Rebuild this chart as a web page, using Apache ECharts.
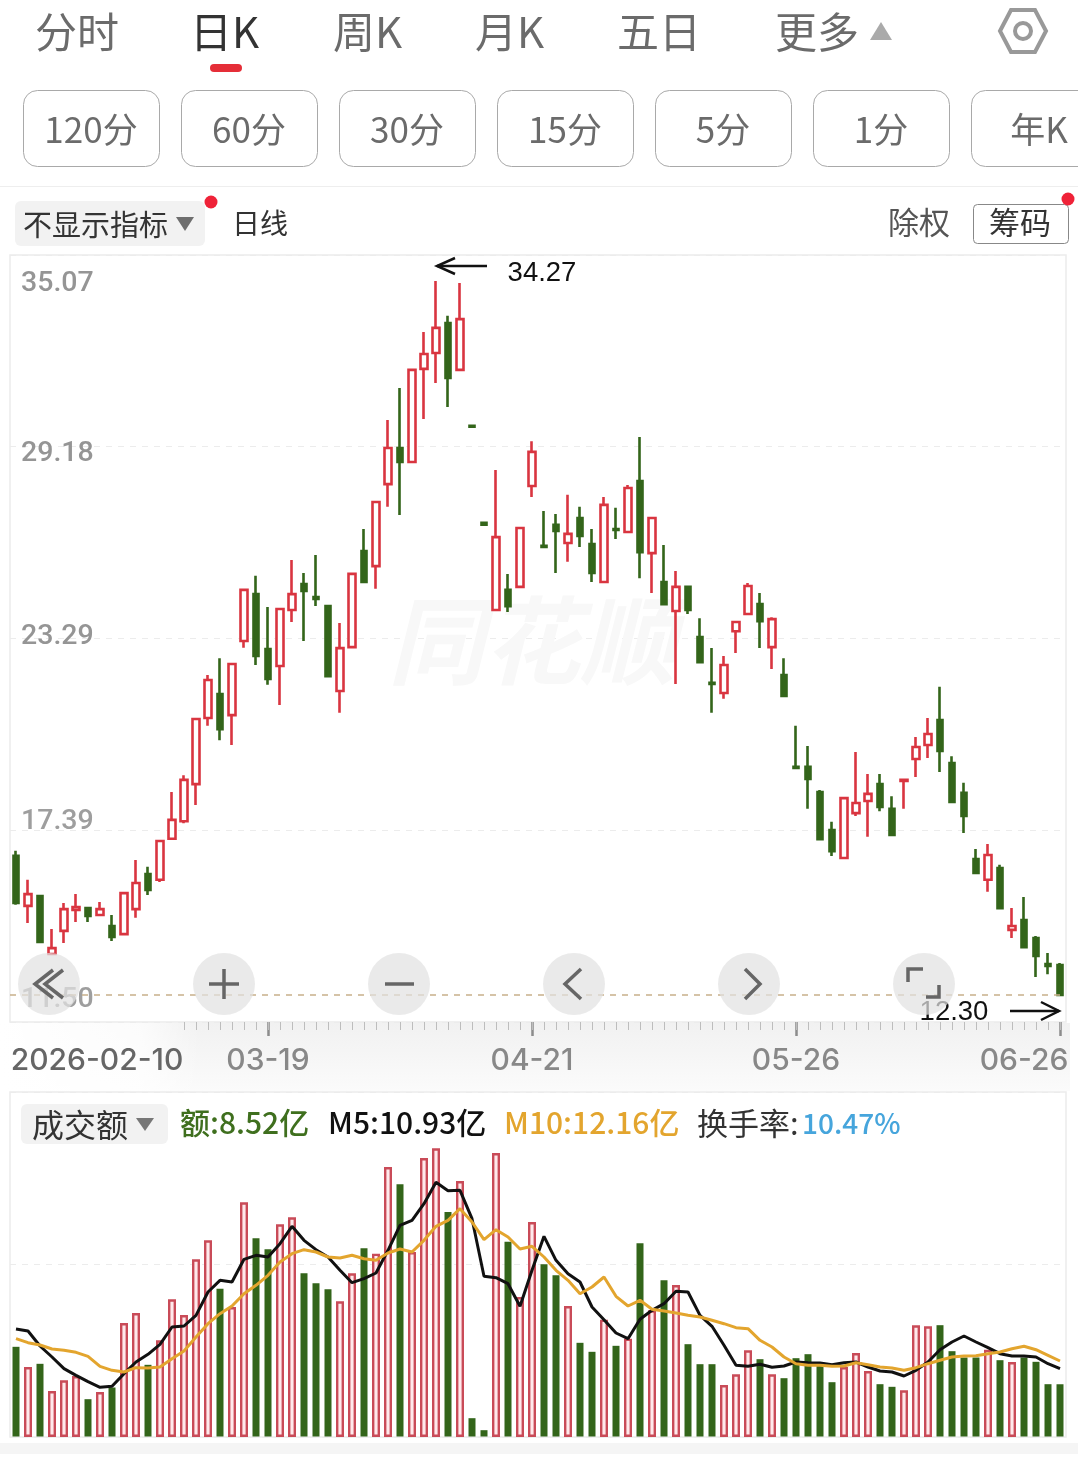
<!DOCTYPE html>
<html>
<head>
<meta charset="utf-8">
<style>html,body{margin:0;padding:0;background:#fff}#kline{width:1078px;height:1464px}</style>
<script src="https://cdn.jsdelivr.net/npm/echarts@6/dist/echarts.min.js"></script>
</head>
<body>
<div id="kline"></div>
<script>
// Daily session dates
const tradeDays = ['02-10','02-11','02-12','02-13','02-24','02-25','02-26','02-27','03-02','03-03','03-04','03-05','03-06','03-09','03-10','03-11','03-12','03-13','03-16','03-17','03-18','03-19','03-20','03-23','03-24','03-25','03-26','03-27','03-30','03-31','04-01','04-02','04-03','04-07','04-08','04-09','04-10','04-13','04-14','04-15','04-16','04-17','04-20','04-21','04-22','04-23','04-24','04-27','04-28','04-29','04-30','05-06','05-07','05-08','05-11','05-12','05-13','05-14','05-15','05-18','05-19','05-20','05-21','05-22','05-25','05-26','05-27','05-28','05-29','06-01','06-02','06-03','06-04','06-05','06-08','06-09','06-10','06-11','06-12','06-15','06-16','06-17','06-18','06-22','06-23','06-24','06-25','06-26'];

// Daily prices
const opens = [16.61,15.07,15.37,13.59,14.30,14.94,15.00,14.79,14.45,14.20,14.97,16.05,15.87,17.13,17.67,18.81,20.84,21.58,20.93,23.21,24.65,22.96,22.44,24.16,24.96,24.56,24.28,21.67,23.02,25.97,25.51,28.03,29.14,28.71,31.57,32.06,32.98,31.54,29.82,26.84,24.16,24.78,24.87,27.97,26.13,26.78,26.22,26.99,26.19,25.02,26.65,26.56,28.12,25.91,25.02,24.13,24.87,23.33,21.92,21.61,23.51,24.04,24.34,23.02,22.16,19.34,19.34,18.57,17.40,16.54,17.92,18.29,18.81,18.05,18.91,19.58,20.01,20.78,19.46,18.54,16.51,15.87,16.23,14.33,14.63,14.08,13.28,13.25];
const closes = [15.16,15.43,13.96,13.77,14.97,15.03,14.76,14.97,14.11,15.46,15.77,15.56,17.06,17.71,18.94,20.81,22.01,20.50,22.50,24.78,22.75,22.04,24.19,24.65,24.75,24.50,22.13,22.99,25.27,25.02,27.48,29.14,28.71,31.54,32.03,32.83,31.29,33.10,29.79,26.78,26.40,24.28,26.68,29.02,26.10,26.59,26.50,26.44,25.30,27.39,26.62,27.91,25.94,26.99,24.34,24.87,24.16,22.56,21.89,22.47,23.79,24.90,23.82,23.88,21.52,19.31,18.97,17.12,16.75,18.38,18.23,18.51,18.11,17.25,18.94,19.95,20.35,19.83,18.26,17.83,16.08,16.63,15.00,14.45,13.80,13.53,13.22,12.33];
const lows = [15.10,14.54,13.93,13.56,13.93,14.57,14.57,14.76,13.99,14.17,14.70,15.40,15.80,17.10,17.61,18.17,20.60,20.16,20.01,23.00,22.47,21.86,21.24,23.79,23.21,24.28,22.10,21.00,22.99,24.99,24.81,27.33,27.08,28.68,30.03,31.14,30.40,31.51,29.76,26.75,24.13,24.10,24.84,27.63,26.07,25.30,25.64,26.10,25.02,24.99,26.34,26.53,25.14,24.68,24.31,21.89,24.04,22.53,21.00,21.43,22.84,24.01,22.99,22.35,21.49,19.27,18.05,17.09,16.60,16.51,17.83,17.19,17.98,17.22,18.05,19.03,19.61,19.18,18.23,17.31,16.05,15.50,14.97,14.08,13.77,12.88,12.97,12.30];
const highs = [16.76,15.87,15.40,14.36,15.16,15.43,15.03,15.19,14.79,15.49,16.48,16.27,17.09,18.57,19.08,20.84,22.16,22.68,22.53,24.81,25.21,24.25,24.22,25.70,25.30,25.85,24.31,23.76,25.30,26.65,27.51,30.00,30.98,31.57,32.70,34.27,33.20,34.21,29.85,26.87,28.46,25.27,26.71,29.35,27.20,27.11,27.70,27.33,26.65,27.63,27.30,28.00,29.48,27.02,26.16,25.36,24.90,23.91,22.99,22.75,23.82,24.99,24.68,23.94,22.68,20.60,19.98,18.63,17.65,18.41,19.80,19.12,19.12,18.44,18.97,20.26,20.84,21.80,19.67,18.85,16.82,16.97,16.33,15.00,15.34,14.14,13.62,13.31];

// Daily turnover and its moving averages, in 亿
const turnover = [14.51,11.20,11.79,7.36,9.07,9.76,6.13,7.20,8.00,18.24,19.84,11.63,15.47,22.03,19.52,28.43,31.47,23.79,20.80,37.55,31.89,30.13,34.03,35.15,26.29,24.69,23.73,21.71,26.19,30.29,29.33,43.20,40.53,29.60,44.64,46.19,36.10,40.96,3.09,1.17,45.44,31.31,22.40,34.40,27.73,25.97,20.96,15.15,13.71,18.77,14.67,15.73,31.09,20.27,25.17,24.32,14.93,11.73,11.73,8.32,10.03,13.87,12.53,10.03,9.49,12.69,13.33,11.73,8.85,11.20,13.44,10.56,8.53,8.11,7.47,17.87,17.71,17.97,13.81,12.80,12.80,13.97,12.37,12.00,12.80,12.11,8.53,8.52];
const ma5 = [17.28,16.96,14.56,12.80,10.93,9.87,8.85,7.95,8.11,10.13,12.00,13.23,14.83,17.60,17.76,19.47,23.20,25.07,24.80,28.43,29.07,28.80,30.93,33.71,31.47,29.97,28.80,26.67,24.69,25.33,26.24,29.87,33.87,34.67,37.33,40.75,39.41,39.47,34.93,25.71,25.49,24.53,20.91,26.67,32.11,28.27,26.13,24.80,20.80,18.77,16.64,15.73,18.83,20.27,21.33,23.31,23.20,19.47,17.71,14.67,11.47,11.31,11.63,11.15,11.36,12.00,11.89,11.84,11.57,11.89,12.00,11.20,10.56,10.40,9.76,10.67,12.00,13.97,15.20,16.16,15.20,14.29,13.33,12.96,12.96,12.80,11.73,10.93];
const ma10 = [15.73,15.09,14.72,14.08,13.87,13.55,12.91,11.31,10.67,10.40,11.09,11.04,11.20,12.53,13.76,16.00,18.13,19.73,20.96,22.93,24.27,25.87,28.00,29.33,29.97,29.60,28.80,28.64,29.07,28.53,28.27,29.44,30.08,29.60,31.47,33.71,34.67,36.53,34.40,31.57,33.17,32.00,30.08,30.51,28.80,26.67,25.07,22.93,24.00,25.60,22.51,20.96,21.87,20.43,20.16,19.84,19.47,19.20,18.67,18.13,17.49,17.33,15.47,14.40,12.80,11.73,11.47,11.47,11.31,11.36,11.89,11.57,11.20,11.04,10.67,11.09,11.73,12.27,12.80,12.96,13.01,13.33,13.60,14.13,14.51,13.97,13.07,12.16];

// Axis ticks
const priceTicks = [11.50,17.39,23.29,29.18,35.07];
const dateLabels = {0:'2026-02-10',21:'03-19',43:'04-21',65:'05-26',87:'06-26'};
const turnoverRate = '10.47%';

// Header text
const periodTabs = ['分时','日K','周K','月K','五日','更多'];
const minuteTabs = ['120分','60分','30分','15分','5分','1分','年K'];

const RED = '#d93540', GREEN = '#33651a', GOLD = '#e3a52e';
const CJK = '"Noto Sans CJK SC","Noto Sans",sans-serif';
const isRise = i => closes[i] > opens[i];
const empty = ['-','-','-','-'];
const ohlc = i => [opens[i], closes[i], lows[i], highs[i]];

const chart = echarts.init(document.getElementById('kline'), null, {renderer:'canvas'});

// Header, toolbar and overlay helpers
const gText = (x, y, text, size, fill, align, extra) => Object.assign({
  type:'text', x, y, z:50,
  style:{text, fill, font:`${(extra && extra.fontStyle) || ''} ${(extra && extra.weight) || 400} ${size}px ${(extra && extra.family) || CJK}`,
         textAlign:align || 'left', textVerticalAlign:'middle'}
}, extra && extra.el);
const gRect = (x, y, width, height, r, style, z) => ({type:'rect', z: z === undefined ? 50 : z,
  shape:{x, y, width, height, r}, style});
const gLine = (points, stroke, lineWidth, z) => ({type:'polyline', z: z === undefined ? 60 : z,
  shape:{points}, style:{stroke, lineWidth, fill:null, lineCap:'butt', lineJoin:'miter'}});
const gDot = (cx, cy, r, fill, z) => ({type:'circle', z: z === undefined ? 50 : z, shape:{cx, cy, r}, style:{fill}});
const gTri = (points, fill) => ({type:'polygon', z:50, shape:{points}, style:{fill}});

const graphics = [];
// tabs
[[35,'#6b6b6b'],[190,'#333'],[333,'#6b6b6b'],[475,'#6b6b6b'],[617,'#6b6b6b'],[775,'#6b6b6b']].forEach((t, i) => {
  graphics.push(gText(t[0], 32, periodTabs[i], 42, t[1]));
});
graphics.push(gRect(210, 64, 32, 8, 4, {fill:'#e52e38'}));
graphics.push(gTri([[870,40],[881,22],[892,40]], '#aaaaaa'));
graphics.push({type:'polygon', z:50, shape:{points:[[1000,31],[1011,10],[1035,10],[1046,31],[1035,52],[1011,52]]},
  style:{stroke:'#999', lineWidth:4, fill:null}});
graphics.push({type:'circle', z:50, shape:{cx:1023, cy:31, r:8}, style:{stroke:'#999', lineWidth:4, fill:null}});
// minute buttons
minuteTabs.forEach((t, i) => {
  const x = 23 + 158 * i;
  graphics.push(gRect(x + .5, 90.5, 136, 76, 14, {stroke:'#a9a9a9', lineWidth:1, fill:'#fff'}));
  graphics.push(gText(x + 68, 130, t, 35, '#6b6b6b', 'center'));
});
graphics.push(gRect(0, 186, 1078, 1, 0, {fill:'#eeeeee'}));
// indicator row
graphics.push(gRect(15, 201, 190, 45, 6, {fill:'#f2f2f2'}));
graphics.push(gText(23, 225, '不显示指标', 29, '#333'));
graphics.push(gTri([[176,217],[194,217],[185,231]], '#6e6e6e'));
graphics.push(gDot(211, 202, 6.5, '#ef2238'));
graphics.push(gText(232, 223, '日线', 28, '#333'));
graphics.push(gText(888, 222, '除权', 31, '#555'));
graphics.push(gRect(973.5, 204.5, 95, 39, 4, {stroke:'#888', lineWidth:1, fill:'#fff'}));
graphics.push(gText(989, 222, '筹码', 31, '#333'));
graphics.push(gDot(1068, 199, 6.5, '#ef2238'));
// watermark
graphics.push(gText(532, 641, '同花顺', 96, '#f8f8f8', 'center', {weight:700, fontStyle:'italic', el:{z:1}}));
// band behind the date axis
graphics.push({type:'rect', z:-1, shape:{x:0, y:1023, width:1070, height:68},
  style:{fill:new echarts.graphic.LinearGradient(0,0,0,1,[{offset:0,color:'#f1f1f1'},{offset:1,color:'#fbfbfb'}])}});
graphics.push({type:'rect', z:-1, shape:{x:0, y:1023, width:200, height:68},
  style:{fill:new echarts.graphic.LinearGradient(0,0,1,0,[{offset:0,color:'#ffffff'},{offset:.7,color:'rgba(255,255,255,.75)'},{offset:1,color:'rgba(255,255,255,0)'}])}});
graphics.push(gRect(0, 1443, 1078, 11, 0, {fill:'#f5f5f5'}, 1));
// turnover header
const last = turnover.length - 1;
graphics.push(gRect(21, 1104, 147, 40, 6, {fill:'#f2f2f2'}));
graphics.push(gText(32, 1125, '成交额', 32, '#333'));
graphics.push(gTri([[136,1118],[154,1118],[145,1131]], '#777'));
const headerFont = {weight:500};
graphics.push(gText(180, 1123, `额:${turnover[last].toFixed(2)}亿`, 30, '#3f6f1e', 'left', headerFont));
graphics.push(gText(328, 1123, `M5:${ma5[last].toFixed(2)}亿`, 30, '#111', 'left', headerFont));
graphics.push(gText(504, 1123, `M10:${ma10[last].toFixed(2)}亿`, 30, GOLD, 'left', headerFont));
graphics.push(gText(697, 1123, '换手率:', 31, '#333'));
graphics.push(gText(802, 1123, turnoverRate, 28, '#46a5dc', 'left', headerFont));
// extreme price arrows
graphics.push(gLine([[487,266],[437,266]], '#111', 2.5));
graphics.push(gLine([[455,258],[437,266],[455,274]], '#111', 2.5));
graphics.push(gLine([[1010,1011],[1059,1011]], '#111', 2.5));
graphics.push(gLine([[1041,1002],[1059,1011],[1041,1020]], '#111', 2.5));
// chart control buttons
[49,224,399,574,749,924].forEach(cx => graphics.push(gDot(cx, 984, 31, 'rgba(226,226,226,.72)', 70)));
const ICON = '#666';
[
  [[53,970],[35,984],[53,998]], [[63,970],[45,984],[63,998]],
  [[209,984],[239,984]], [[224,969],[224,999]],
  [[385,984],[414,984]],
  [[581,969],[565,984],[581,999]],
  [[745,969],[760,984],[745,999]],
  [[908,982],[908,969],[923,969]], [[939,985],[939,997],[926,997]]
].forEach(p => graphics.push(gLine(p, ICON, 3.5, 75)));

// Shifts that keep the price labels clear of their grid lines
const priceLabelRich = {
  p3507:{padding:[58,0,0,0], color:'#959595'},
  p2918:{padding:[15,0,0,0], color:'#959595'},
  p2329:{padding:[0,0,3,0], color:'#959595'},
  p1739:{padding:[0,0,16,0], color:'#9e9e9e'},
  p1150:{padding:[0,0,44,0], color:'#9e9e9e'}
};
const commonRich = {fontFamily:'Roboto', fontSize:28.5, fontWeight:500};
Object.values(priceLabelRich).forEach(r => Object.assign(r, commonRich));

const dateRichBase = {fontFamily:'Inter', fontSize:30, fontWeight:500, color:'#888'};
const dateRich = {
  first:Object.assign({}, dateRichBase, {padding:[0,0,0,162], color:'#666'}),
  mid:Object.assign({}, dateRichBase),
  last:Object.assign({}, dateRichBase, {padding:[0,72,0,0]})
};

const priceGridBorder = {show:true, borderColor:'#ececec', borderWidth:1.5, backgroundColor:'transparent'};

const candleStyle = (fill, edge) => ({color:fill, color0:fill, borderColor:edge, borderColor0:edge,
  borderColorDoji:edge, borderWidth:2.6});

const riseData = closes.map((c, i) => isRise(i) ? ohlc(i) : empty);
const fallData = closes.map((c, i) => isRise(i) ? empty : ohlc(i));
const highIndex = highs.indexOf(Math.max(...highs));
const lowIndex = lows.indexOf(Math.min(...lows));
const extremeLabel = offset => ({show:true, position:'inside', offset, color:'#111', fontSize:27.5,
  fontFamily:'"Liberation Sans",Arial,sans-serif', formatter:p => p.value.toFixed(2)});

chart.setOption({
  animation:false,
  backgroundColor:'#ffffff',
  graphic:{elements:graphics},
  grid:[
    Object.assign({left:10, top:255, width:1056, height:767}, priceGridBorder),
    Object.assign({left:10, top:1092, width:1056, height:345}, priceGridBorder)
  ],
  xAxis:[
    {type:'category', gridIndex:0, data:tradeDays, boundaryGap:true, position:'bottom',
     axisLine:{show:false}, splitLine:{show:false},
     axisTick:{show:true, alignWithLabel:true, length:14, interval:i => i in dateLabels && i > 0,
               lineStyle:{color:'#8c8c8c', width:2.5}},
     axisLabel:{show:true, margin:24, interval:i => i in dateLabels, rich:dateRich,
       formatter:(v, i) => {
         if (!(i in dateLabels)) return '';
         const key = i === 0 ? 'first' : (i === tradeDays.length - 1 ? 'last' : 'mid');
         return `{${key}|${dateLabels[i]}}`;
       }}},
    {type:'category', gridIndex:0, data:tradeDays, boundaryGap:true, position:'bottom',
     axisLine:{show:false}, splitLine:{show:false}, axisLabel:{show:false},
     axisTick:{show:true, alignWithLabel:true, length:8, interval:i => i >= 14,
               lineStyle:{color:'#bdbdbd', width:1}}},
    {type:'category', gridIndex:1, data:tradeDays, boundaryGap:true,
     axisLine:{show:false}, axisTick:{show:false}, axisLabel:{show:false}, splitLine:{show:false}}
  ],
  yAxis:[
    {type:'value', gridIndex:0, position:'left', min:11.5, max:35.07, scale:true,
     axisLine:{show:false}, axisTick:{show:false, customValues:priceTicks},
     splitLine:{show:true, lineStyle:{color:'#ececec', type:[6,6], width:1}},
     axisLabel:{show:true, inside:true, margin:11, customValues:priceTicks, align:'left',
       rich:priceLabelRich, verticalAlign:'middle',
       formatter:v => `{p${Number(v).toFixed(2).replace('.','')}|${Number(v).toFixed(2)}}`}},
    {type:'value', gridIndex:1, min:0, max:55.2, interval:27.6,
     axisLine:{show:false}, axisTick:{show:false}, axisLabel:{show:false},
     splitLine:{show:true, lineStyle:{color:'#ececec', type:[6,6], width:1}}}
  ],
  series:[
    {name:'阳线', type:'candlestick', xAxisIndex:0, yAxisIndex:0, barWidth:7, clip:false, z:3,
     data:riseData, itemStyle:candleStyle('#ffffff', RED)},
    {name:'阴线', type:'candlestick', xAxisIndex:0, yAxisIndex:0, barWidth:5, clip:false, z:3,
     data:fallData, itemStyle:candleStyle(GREEN, GREEN),
     markLine:{silent:true, symbol:'none', animation:false, label:{show:false},
       lineStyle:{color:'#c8b08a', type:[6,6], width:1.5},
       data:[{yAxis:closes[last]}]},
     markPoint:{silent:true, animation:false, symbolSize:0, itemStyle:{color:'transparent'},
       data:[
         {coord:[highIndex, highs[highIndex]], value:highs[highIndex], label:extremeLabel([106,-8])},
         {coord:[lowIndex, lows[lowIndex]], value:lows[lowIndex], label:extremeLabel([-106,16])}
       ]}},
    // the border sits inside the bar, so rising bars keep a wider outline than falling ones
    {name:'成交额', type:'bar', xAxisIndex:2, yAxisIndex:1, barWidth:8, z:3,
     data:turnover.map((v, i) => ({value:v, itemStyle: isRise(i)
       ? {color:'#ffe9ec', borderColor:'#c94b58', borderWidth:2.4}
       : {color:GREEN, borderColor:'transparent', borderWidth:1}}))},
    {name:'M5', type:'line', xAxisIndex:2, yAxisIndex:1, data:ma5, symbol:'none', z:4,
     lineStyle:{color:'#111', width:3}},
    {name:'M10', type:'line', xAxisIndex:2, yAxisIndex:1, data:ma10, symbol:'none', z:5,
     lineStyle:{color:GOLD, width:3}}
  ]
});
</script>
</body>
</html>
